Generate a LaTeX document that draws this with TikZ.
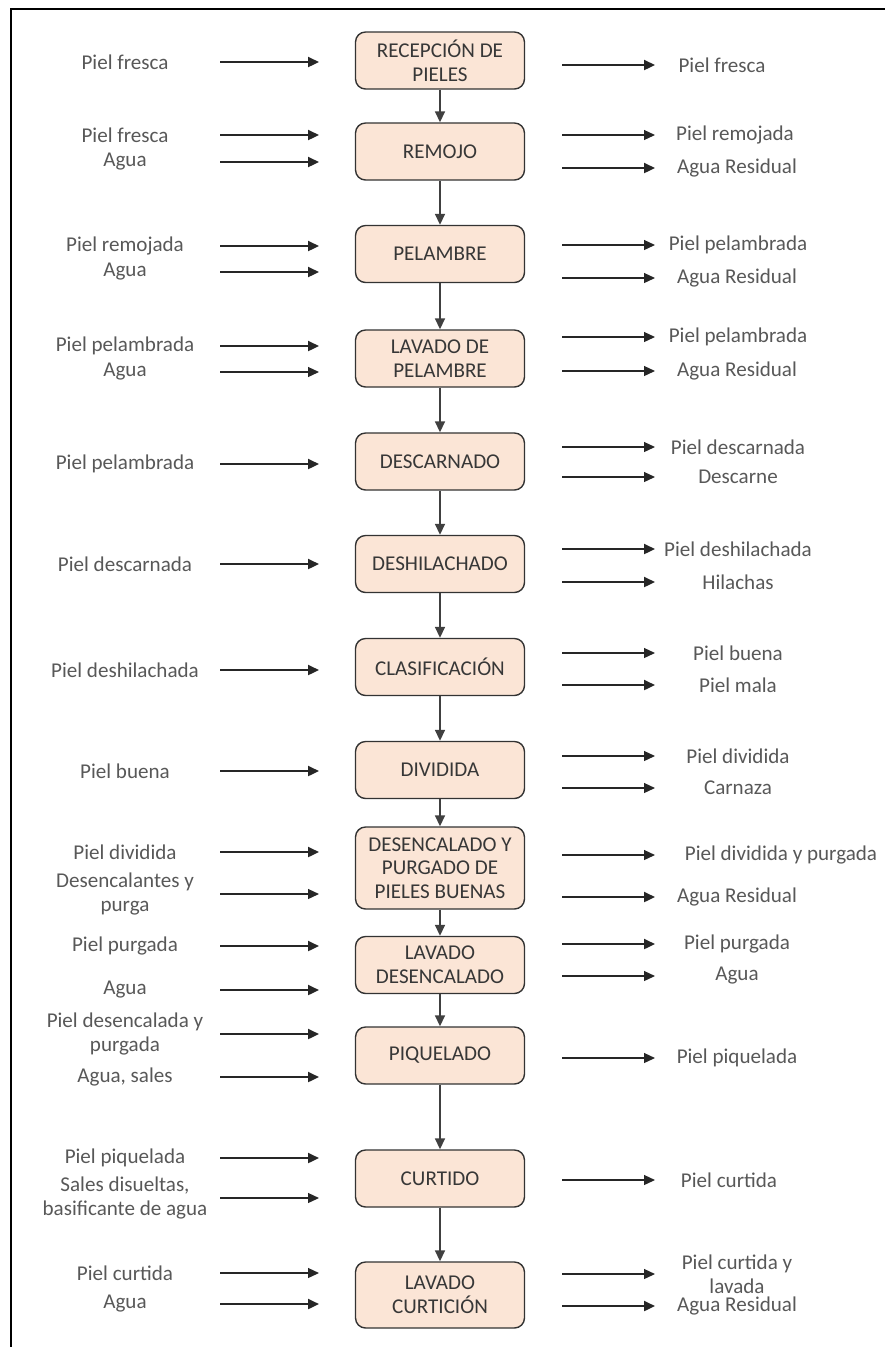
\documentclass[tikz,border=0pt]{standalone}
\usepackage{fontspec}
\setmainfont{Carlito}
\usetikzlibrary{arrows.meta}

\definecolor{pielfondo}{RGB}{251,229,214}
\definecolor{textogris}{RGB}{88,88,88}
\definecolor{cajatexto}{RGB}{55,55,55}

\begin{document}
\begin{tikzpicture}[x=0.02cm,y=-0.02cm,
        proceso/.style={draw=black!80,fill=pielfondo,rounded corners=0.2cm,line width=0.8pt,
            minimum width=3.38cm,minimum height=1.14cm,inner sep=1pt,align=center,
            text=cajatexto,font=\fontsize{12}{13.5}\selectfont},
        etiq/.style={align=center,inner sep=0pt,text=textogris,font=\fontsize{12}{13.5}\selectfont},
        flujo/.style={-{Triangle[length=2.2mm,width=2mm]},line width=0.7pt,black!85},
        grueso/.style={flujo,line width=1.3pt},
        bajada/.style={-{Triangle[length=2.2mm,width=2mm]},line width=0.9pt,black!75}]

    % Marco
    \useasboundingbox (0,0) rectangle (885,1347);
    \draw[line width=1.4pt] (885,9) -- (11,9) -- (11,1347);

    % Procesos
    \node[proceso] (rec) at (440,60.5) {RECEPCIÓN DE\\PIELES};
    \node[proceso] (rem) at (440,151.5) {REMOJO};
    \node[proceso] (pel) at (440,254) {PELAMBRE};
    \node[proceso] (lpe) at (440,358.5) {LAVADO DE\\PELAMBRE};
    \node[proceso] (dsc) at (440,461.5) {DESCARNADO};
    \node[proceso] (dsh) at (440,564) {DESHILACHADO};
    \node[proceso] (cla) at (440,667) {CLASIFICACIÓN};
    \node[proceso] (div) at (440,770) {DIVIDIDA};
    \node[proceso,minimum height=1.64cm] (dpu) at (440,868) {DESENCALADO Y\\PURGADO DE\\PIELES BUENAS};
    \node[proceso] (lde) at (440,965) {LAVADO\\DESENCALADO};
    \node[proceso] (piq) at (440,1055.5) {PIQUELADO};
    \node[proceso] (cur) at (440,1178.5) {CURTIDO};
    \node[proceso,minimum height=1.32cm] (lcu) at (440,1295) {LAVADO\\CURTICIÓN};

    % Flechas entre procesos
    \foreach \a/\b in {rec/rem,rem/pel,pel/lpe,lpe/dsc,dsc/dsh,dsh/cla,cla/div,div/dpu,dpu/lde,lde/piq,piq/cur,cur/lcu} {
            \draw[bajada] (\a) -- (\b);
        }

    % Entradas
    \foreach \n/\y/\t/\s in {1/62/Piel fresca/grueso, 2/135/Piel fresca/grueso, 3/162/Agua/grueso,
            4/246/Piel remojada/grueso, 5/272/Agua/grueso, 6/346/Piel pelambrada/grueso, 7/372/Agua/flujo,
            8/464/Piel pelambrada/grueso, 9/564/Piel descarnada/grueso, 10/670/Piel deshilachada/grueso,
            11/771/Piel buena/grueso, 12/852/Piel dividida/grueso, 13/894/{Desencalantes y\\purga}/flujo,
            14/946/Piel purgada/grueso, 15/990/Agua/grueso, 16/1034/{Piel desencalada y\\purgada}/grueso,
            17/1077/{Agua, sales}/grueso, 18/1158/Piel piquelada/grueso,
            19/1198/{Sales disueltas,\\basificante de agua}/flujo, 20/1273/Piel curtida/flujo, 21/1304/Agua/grueso} {
            \node[etiq] (ent\n) at (125,\y) {\t};
            \coordinate (ea\n) at (220,\y);
            \coordinate (eb\n) at (319,\y);
            \draw[\s] (ea\n) -- (eb\n);
        }

    % Salidas
    \foreach \n/\x/\y/\t/\s in {1/722/65/Piel fresca/grueso, 2/735/135/Piel remojada/flujo, 3/737/168/Agua Residual/grueso,
            4/738/245/Piel pelambrada/flujo, 5/737/278/Agua Residual/flujo, 6/738/337/Piel pelambrada/flujo,
            7/737/371/Agua Residual/flujo, 8/738/447/Piel descarnada/flujo, 9/738/477/Descarne/flujo,
            10/738/549/Piel deshilachada/grueso, 11/738/582/Hilachas/grueso, 12/738/653/Piel buena/flujo,
            13/738/685/Piel mala/grueso, 14/738/756/Piel dividida/flujo, 15/738/788/Carnaza/flujo,
            16/781/855/Piel dividida y purgada/flujo, 17/737/897/Agua Residual/grueso, 18/737/944/Piel purgada/grueso,
            19/737/976/Agua/flujo, 20/737/1058/Piel piquelada/flujo, 21/729/1180/Piel curtida/flujo,
            22/737/1274/{Piel curtida y\\lavada}/flujo, 23/737/1306/Agua Residual/grueso} {
            \node[etiq] (sal\n) at (\x,\y) {\t};
            \coordinate (sa\n) at (562,\y);
            \coordinate (sb\n) at (655,\y);
            \draw[\s] (sa\n) -- (sb\n);
        }
\end{tikzpicture}
\end{document}
